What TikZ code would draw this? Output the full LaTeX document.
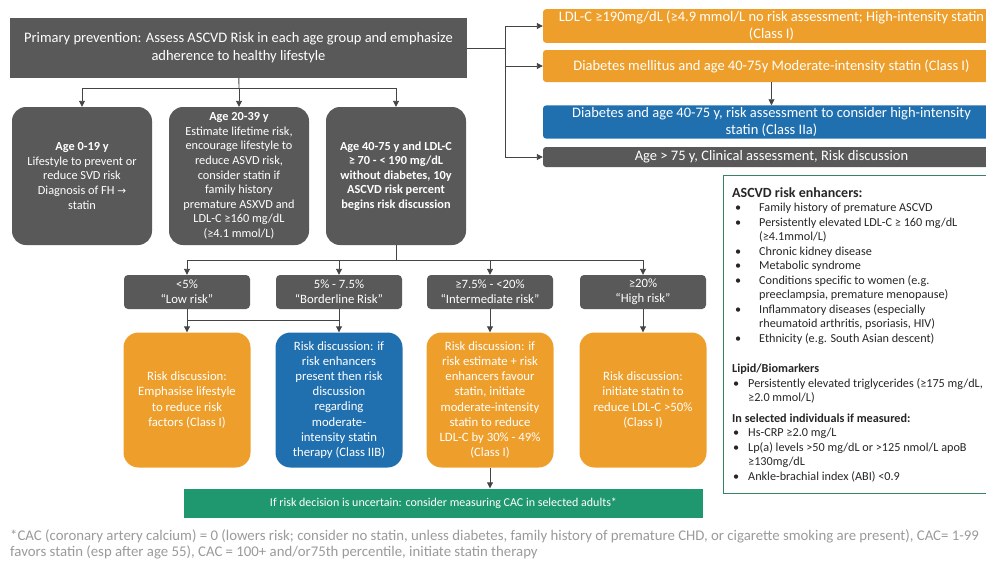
\documentclass[tikz,border=0pt]{standalone}
\usepackage{fontspec}
\setmainfont{Carlito}
\newfontfamily\symfont{DejaVu Sans}
\usetikzlibrary{positioning,arrows.meta}

\definecolor{boxgrey}{HTML}{595959}
\definecolor{boxorange}{HTML}{EE9F2B}
\definecolor{boxblue}{HTML}{2070B0}
\definecolor{boxgreen}{HTML}{1F9870}
\definecolor{panelgreen}{HTML}{3A8262}
\definecolor{linegrey}{HTML}{444444}
\definecolor{notegrey}{HTML}{9A9A9A}

\newcommand\bitem[1]{\makebox[27pt][l]{\hspace{3pt}\textbullet}#1}
\newcommand\bcont[1]{\hspace{27pt}#1}
\newcommand\sitem[1]{\makebox[16pt][l]{\hspace{1pt}\textbullet}#1}
\newcommand\scont[1]{\hspace{16pt}#1}

\tikzset{
  box/.style={rectangle, inner sep=2pt, text=white, align=center},
  greybox/.style={box, fill=boxgrey},
  agebox/.style={greybox, rounded corners=14pt, minimum width=140pt, minimum height=138pt,
    font=\fontsize{12.3}{14.6}\selectfont},
  sidebox/.style={box, rounded corners=3pt, minimum width=457pt, minimum height=32pt,
    font=\fontsize{14.5}{17}\selectfont},
  riskbox/.style={greybox, rounded corners=4pt, minimum width=126pt, minimum height=34pt,
    font=\fontsize{12.7}{15}\selectfont},
  resbox/.style={box, rounded corners=15pt, minimum width=127pt, minimum height=135pt,
    font=\fontsize{12.7}{15.1}\selectfont},
  link/.style={draw=linegrey, line width=0.9pt},
  arr/.style={link, -{Triangle[length=6pt,width=6pt]}},
}

\begin{document}
\begin{tikzpicture}[x=1pt,y=-1pt]
 \useasboundingbox (0,0) rectangle (986,560);
 \clip (0,0) rectangle (986,560);

 \node[greybox, minimum width=457pt, minimum height=60pt, font=\fontsize{14.5}{18}\selectfont] (top) at (238.5,48)
   {Primary prevention: Assess ASCVD Risk in each age group and emphasize\\adherence to healthy lifestyle};

% Altersgruppen
 \node[agebox] (age1) at (82,176) {\textbf{Age 0-19 y}\\Lifestyle to prevent or\\reduce SVD risk\\Diagnosis of FH {\symfont\fontsize{10.5}{14}\selectfont →}\\statin};
 \node[agebox] (age2) at (239,176) {\textbf{Age 20-39 y}\\Estimate lifetime risk,\\encourage lifestyle to\\reduce ASVD risk,\\consider statin if\\family history\\premature ASXVD and\\LDL-C ≥160 mg/dL\\(≥4.1 mmol/L)};
 \node[agebox, font=\bfseries\fontsize{12.3}{14.6}\selectfont] (age3) at (396,176) {Age 40-75 y and LDL-C\\≥ 70 - < 190 mg/dL\\without diabetes, 10y\\ASCVD risk percent\\begins risk discussion};

 \coordinate (jt) at (239,88);
 \draw[link] (top) -- (jt);
 \draw[arr] (jt) -| (age1);
 \draw[arr] (jt) -- (age2);
 \draw[arr] (jt) -| (age3);

% rechte Spalte
 \node[sidebox, fill=boxorange] (r1) at (771.5,26) {LDL-C ≥190mg/dL (≥4.9 mmol/L no risk assessment; High-intensity statin\\(Class I)};
 \node[sidebox, fill=boxorange] (r2) at (771.5,66) {Diabetes mellitus and age 40-75y Moderate-intensity statin (Class I)};
 \node[sidebox, fill=boxblue] (r3) at (771.5,122) {Diabetes and age 40-75 y, risk assessment to consider high-intensity\\statin (Class IIa)};
 \node[sidebox, fill=boxgrey, minimum height=20pt] (r4) at (771.5,157) {Age > 75 y, Clinical assessment, Risk discussion};

 \coordinate (jr) at (505,48);
 \draw[link] (top.east |- jr) -- (jr);
 \draw[arr] (jr) |- (r1.west);
 \draw[arr] (jr) |- (r2.west);
 \draw[arr] (jr) |- (r4.west);
 \draw[arr] (r2) -- (r3);

% Risikostufen
 \node[riskbox] (low) at (187,292) {<5\%\\“Low risk”};
 \node[riskbox] (border) at (339,292) {5\% - 7.5\%\\“Borderline Risk”};
 \node[riskbox] (inter) at (490,292) {≥7.5\% - <20\%\\“Intermediate risk”};
 \node[riskbox] (high) at (643,292) {≥20\%\\“High risk”};

 \coordinate (jk) at (396,260);
 \draw[link] (age3) -- (jk);
 \draw[arr] (jk) -| (low);
 \draw[arr] (jk) -| (border);
 \draw[arr] (jk) -| (inter);
 \draw[arr] (jk) -| (high);

 \node[resbox, fill=boxorange] (resl) at (187,400) {Risk discussion:\\Emphasise lifestyle\\to reduce risk\\factors (Class I)};
 \node[resbox, fill=boxblue] (resb) at (339,400) {Risk discussion: if\\risk enhancers\\present then risk\\discussion\\regarding\\moderate-\\intensity statin\\therapy (Class IIB)};
 \node[resbox, fill=boxorange] (resi) at (490,400) {Risk discussion: if\\risk estimate + risk\\enhancers favour\\statin, initiate\\moderate-intensity\\statin to reduce\\LDL-C by 30\% - 49\%\\(Class I)};
 \node[resbox, fill=boxorange] (resh) at (643,400) {Risk discussion:\\initiate statin to\\reduce LDL-C >50\%\\(Class I)};

 \coordinate (ja) at (187,320);
 \coordinate (jb) at (339,320);
 \draw[arr] (low) -- (resl);
 \draw[arr] (border) -- (resb);
 \draw[link] (ja) -- (jb);
 \draw[arr] (inter) -- (resi);
 \draw[arr] (high) -- (resh);

 \node[box, fill=boxgreen, minimum width=519pt, minimum height=29pt, font=\fontsize{12}{14}\selectfont] (cac) at (443.5,503)
   {If risk decision is uncertain: consider measuring CAC in selected adults*};
 \draw[arr] (resi) -- (resi |- cac.north);

% Kasten mit Risikofaktoren
 \node[draw=panelgreen, line width=1pt, minimum width=290pt, minimum height=318pt, anchor=north west] (panel) at (723,175) {};
 \node[anchor=north west, align=left, inner sep=0pt, text=black!85, font=\fontsize{12.2}{14.5}\selectfont] (enh)
   at ([xshift=9pt,yshift=-12pt]panel.north west)
   {{\bfseries\fontsize{14}{14}\selectfont ASCVD risk enhancers:}\\
    \bitem{Family history of premature ASCVD}\\
    \bitem{Persistently elevated LDL-C ≥ 160 mg/dL}\\
    \bcont{(≥4.1mmol/L)}\\
    \bitem{Chronic kidney disease}\\
    \bitem{Metabolic syndrome}\\
    \bitem{Conditions specific to women (e.g.}\\
    \bcont{preeclampsia, premature menopause)}\\
    \bitem{Inflammatory diseases (especially}\\
    \bcont{rheumatoid arthritis, psoriasis, HIV)}\\
    \bitem{Ethnicity (e.g. South Asian descent)}\\[16pt]
    \textbf{Lipid/Biomarkers}\\
    \sitem{Persistently elevated triglycerides (≥175 mg/dL,}\\
    \scont{≥2.0 mmol/L)}\\[6pt]
    \textbf{In selected individuals if measured:}\\
    \sitem{Hs-CRP ≥2.0 mg/L}\\
    \sitem{Lp(a) levels >50 mg/dL or >125 nmol/L apoB}\\
    \scont{≥130mg/dL}\\
    \sitem{Ankle-brachial index (ABI) <0.9}};

 \node[anchor=north west, align=left, inner sep=0pt, text=notegrey, font=\fontsize{14.8}{16}\selectfont] (note) at (10,529)
   {*CAC (coronary artery calcium) = 0 (lowers risk; consider no statin, unless diabetes, family history of premature CHD, or cigarette smoking are present), CAC= 1-99\\
    favors statin (esp after age 55), CAC = 100+ and/or75th percentile, initiate statin therapy};
\end{tikzpicture}
\end{document}
